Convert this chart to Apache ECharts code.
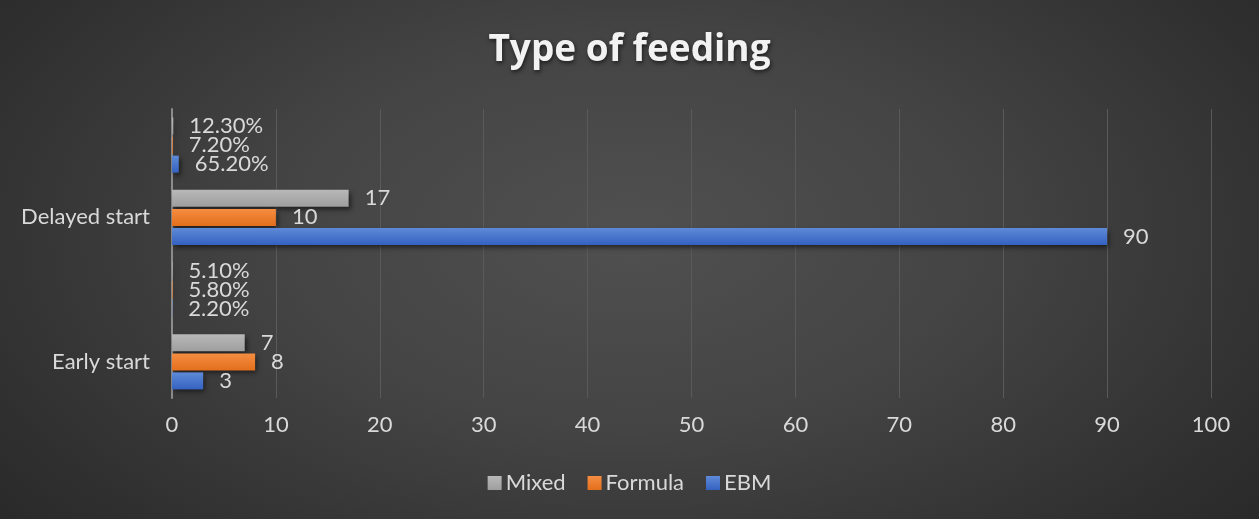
<!DOCTYPE html>
<html>
<head>
<meta charset="utf-8">
<title>Type of feeding</title>
<script src="https://cdn.jsdelivr.net/npm/echarts@6/dist/echarts.min.js"></script>
<style>
  html, body { margin: 0; padding: 0; }
  #chart {
    width: 1259px; height: 519px;
    background: radial-gradient(ellipse 70% 95% at 50% 45%, #505050 0%, #444444 40%, #2f2f2f 80%, #262626 100%);
  }
</style>
</head>
<body>
<div id="chart"></div>
<script>
// Rows: count rows carry the category name, share rows (fractions) are unlabeled
const categories = ['Early start', '', 'Delayed start', ''];
const seriesNames = ['Mixed', 'Formula', 'EBM'];
const mixed   = [7, 0.051, 17, 0.123];
const formula = [8, 0.058, 10, 0.072];
const ebm     = [3, 0.022, 90, 0.652];
const xTicks  = { min: 0, max: 100, interval: 10 };

const textColor = '#d9d9d9';
const fontFamily = 'Lato, "Open Sans", sans-serif';
const fontSize = 22;

function grad(top, bottom) {
  return new echarts.graphic.LinearGradient(0, 0, 0, 1, [
    { offset: 0, color: top },
    { offset: 1, color: bottom }
  ]);
}

function fmt(p) {
  return p.dataIndex % 2 === 1 ? (p.value * 100).toFixed(2) + '%' : String(p.value);
}

function barSeries(name, data, top, bottom) {
  return {
    name: name,
    type: 'bar',
    data: data,
    barWidth: 17,
    barGap: '12%',
    itemStyle: {
      color: grad(top, bottom),
      shadowColor: 'rgba(0,0,0,0.55)',
      shadowBlur: 5,
      shadowOffsetX: 2,
      shadowOffsetY: 3
    },
    label: {
      show: true,
      position: 'right',
      distance: 16,
      color: textColor,
      fontSize: fontSize,
      fontFamily: fontFamily,
      formatter: fmt
    }
  };
}

const chart = echarts.init(document.getElementById('chart'), null, { renderer: 'canvas' });
chart.setOption({
  backgroundColor: 'transparent',
  animation: false,
  title: {
    text: 'Type of feeding',
    left: 'center',
    top: 27,
    textStyle: {
      color: '#f2f2f2',
      fontSize: 37,
      fontWeight: 'bold',
      fontFamily: '"Open Sans", sans-serif',
      textShadowColor: 'rgba(0,0,0,0.6)',
      textShadowBlur: 4,
      textShadowOffsetX: 1,
      textShadowOffsetY: 2
    }
  },
  legend: {
    data: seriesNames,
    bottom: 20,
    left: 'center',
    itemWidth: 14,
    itemHeight: 14,
    itemGap: 22,
    icon: 'rect',
    textStyle: { color: textColor, fontSize: fontSize, fontFamily: fontFamily, padding: [0, 0, 0, -1] }
  },
  grid: { left: 172, right: 48, top: 109, bottom: 121, containLabel: false },
  xAxis: {
    type: 'value',
    min: xTicks.min,
    max: xTicks.max,
    interval: xTicks.interval,
    axisLine: { show: false },
    axisTick: { show: false },
    axisLabel: { color: textColor, fontSize: fontSize, fontFamily: fontFamily, margin: 16 },
    splitLine: { show: true, lineStyle: { color: '#5a5a5a', width: 1 } }
  },
  yAxis: {
    type: 'category',
    data: categories,
    axisLine: { show: true, lineStyle: { color: '#8c8c8c', width: 2 } },
    axisTick: { show: false },
    axisLabel: { color: textColor, fontSize: fontSize, fontFamily: fontFamily, margin: 22 },
    splitLine: { show: false }
  },
  series: [
    barSeries('Mixed', mixed, '#b8b8b8', '#9e9e9e'),
    barSeries('Formula', formula, '#f58d42', '#e36f1c'),
    barSeries('EBM', ebm, '#5f8ad8', '#3462c0')
  ]
});
</script>
</body>
</html>
